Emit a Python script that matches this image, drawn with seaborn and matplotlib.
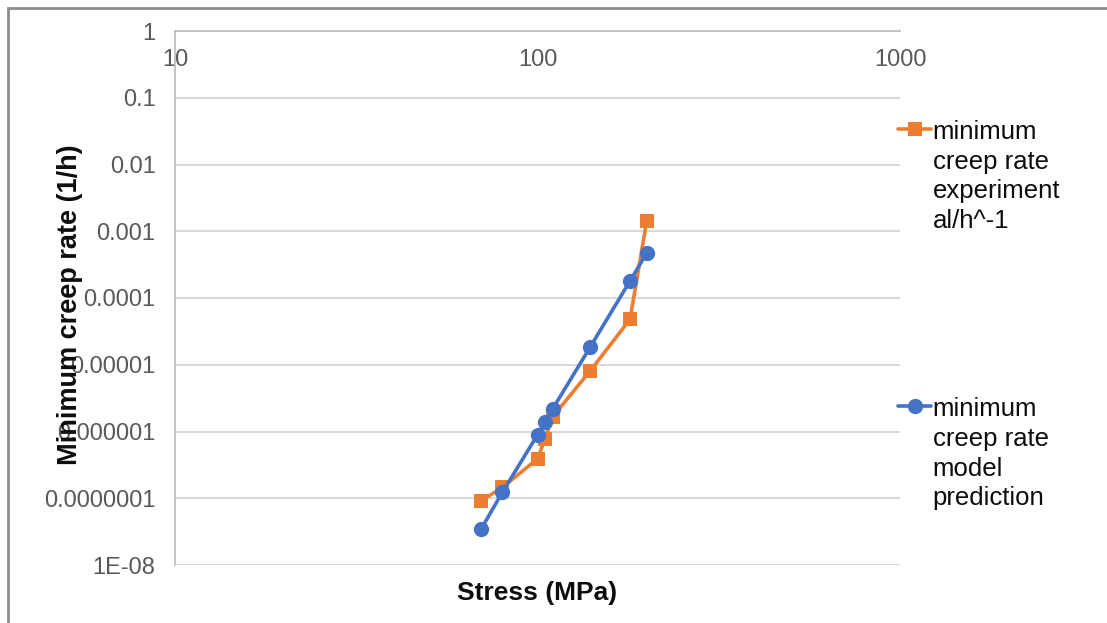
import numpy as np
import pandas as pd
import matplotlib
matplotlib.use("Agg")
import matplotlib.pyplot as plt
import seaborn as sns
from matplotlib.patches import Rectangle

# data
stress = [70, 80, 100, 105, 110, 140, 180, 200]
rate_experiment = [9.2e-8, 1.45e-7, 3.9e-7, 7.8e-7, 1.65e-6, 8.2e-6, 4.8e-5, 1.4e-3]
rate_model = [3.5e-8, 1.23e-7, 8.9e-7, 1.37e-6, 2.16e-6, 1.87e-5, 1.8e-4, 4.7e-4]

label_exp = "minimum\ncreep rate\nexperiment\nal/h^-1"
label_model = "minimum\ncreep rate\nmodel\nprediction"

y_ticks = [1e-8, 1e-7, 1e-6, 1e-5, 1e-4, 1e-3, 1e-2, 1e-1, 1]
y_ticklabels = ["1E-08", "0.0000001", "0.000001", "0.00001", "0.0001",
                "0.001", "0.01", "0.1", "1"]
x_ticks = [10, 100, 1000]
x_ticklabels = ["10", "100", "1000"]

sns.set_style("white")
plt.rcParams['font.family'] = ['Liberation Sans', 'DejaVu Sans']

fig = plt.figure(figsize=(11.07, 6.23), dpi=100)
ax = fig.add_axes([175/1107, 1 - 565/623, 725/1107, 534/623])

df_exp = pd.DataFrame({"stress": stress, "rate": rate_experiment})
df_mod = pd.DataFrame({"stress": stress, "rate": rate_model})

sns.lineplot(data=df_exp, x="stress", y="rate", ax=ax, color="#ED7D31",
             marker="s", markersize=10, markeredgewidth=0, linewidth=2.6,
             label=label_exp, sort=False)
sns.lineplot(data=df_mod, x="stress", y="rate", ax=ax, color="#4472C4",
             marker="o", markersize=11, markeredgewidth=0, linewidth=2.6,
             label=label_model, sort=False)

ax.set_xscale("log")
ax.set_yscale("log")
ax.set_xlim(10, 1000)
ax.set_ylim(1e-8, 1)

ax.set_yticks(y_ticks)
ax.set_yticklabels(y_ticklabels)
ax.set_xticks(x_ticks)
ax.set_xticklabels(x_ticklabels)
ax.minorticks_off()

ax.tick_params(axis="y", length=0, pad=14, labelsize=17, labelcolor="#595959")
ax.tick_params(axis="x", length=0, top=True, labeltop=True, bottom=False,
               labelbottom=False, pad=-29, labelsize=17, labelcolor="#595959")

ax.yaxis.grid(True, color="#d9d9d9", linewidth=1.5)
ax.xaxis.grid(False)
for s in ["right", "bottom"]:
    ax.spines[s].set_visible(False)
for s in ["left", "top"]:
    ax.spines[s].set_color("#bfbfbf")
    ax.spines[s].set_linewidth(1.3)

ax.set_xlabel("Stress (MPa)", fontsize=19, fontweight="bold", color="#0d0d0d")
ax.xaxis.set_label_coords(0.5, -0.03)
ax.set_ylabel("Minimum creep rate (1/h)", fontsize=19.5, fontweight="bold",
              color="#0d0d0d")
ax.yaxis.set_label_coords(-0.127, 0.487)

ax.get_legend().remove()
handles, labels = ax.get_legend_handles_labels()
leg = fig.legend(handles, labels, loc="upper left",
                 bbox_to_anchor=(885/1107, 1 - 107/623), frameon=False,
                 fontsize=18.5, handlelength=1.3, handletextpad=0.05,
                 labelspacing=6.4, borderpad=0)
for t in leg.get_texts():
    t.set_linespacing(1.3)
    t.set_color("#0d0d0d")
# put the handle on the first line of each label
for col in leg._legend_handle_box.get_children():
    for row in col.get_children():
        row.align = "top"

# outer chart border
fig.patches.append(Rectangle((8/1107, -0.05), 1.1, 1 - 8/623 + 0.05,
                             transform=fig.transFigure, fill=False,
                             edgecolor="#8c8c8c", linewidth=2))

fig.savefig("out.png", dpi=100)
